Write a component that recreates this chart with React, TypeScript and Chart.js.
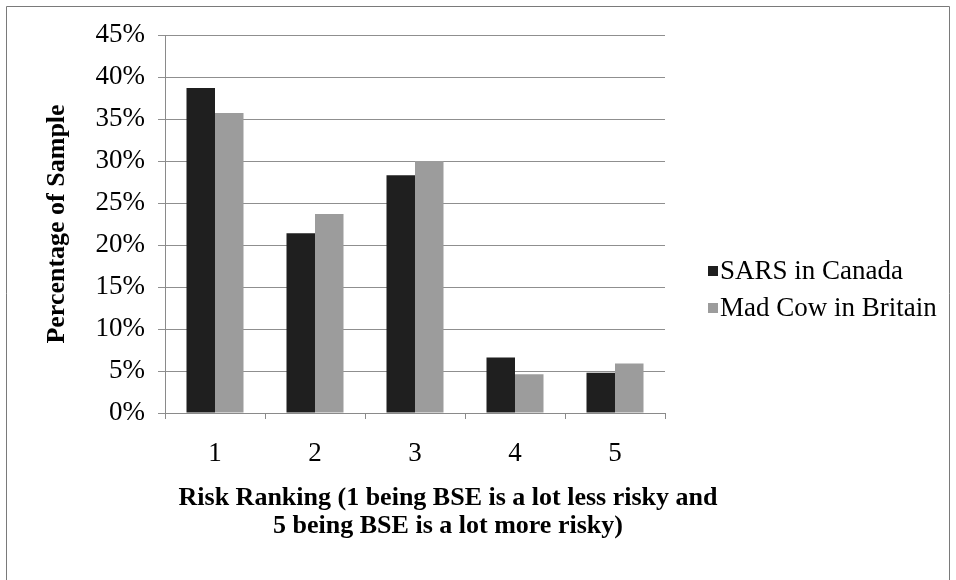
import { useEffect, useRef } from "react";
import { Chart, registerables } from "chart.js";

Chart.register(...registerables);

// Risk ranking categories (1 = BSE a lot less risky, 5 = a lot more risky)
const categories = ["1", "2", "3", "4", "5"];
// Share of respondents (%) per ranking, by comparison scenario
const sarsInCanada = [38.7, 21.4, 28.3, 6.6, 4.8];
const madCowInBritain = [35.7, 23.7, 30.0, 4.6, 5.9];
const seriesNames = ["SARS in Canada", "Mad Cow in Britain"];
const yTicks = { min: 0, max: 45, step: 5 };
const yTitle = "Percentage of Sample";
const xTitleLines = [
  "Risk Ranking (1 being BSE is a lot less risky and",
  "5 being BSE is a lot more risky)",
];

const W = 956;
const H = 580;
const PLOT = { left: 165, right: 665, top: 35, bottom: 413 };
const SERIF = '"Liberation Serif", "Times New Roman", serif';
const COLORS = ["#1f1f1f", "#9c9c9c"];

// Outer frame, side legend and the two-line category-axis title
const decorations = {
  id: "decorations",
  afterDraw(chart: Chart) {
    const ctx = chart.ctx;
    ctx.save();
    ctx.strokeStyle = "#7a7a7a";
    ctx.lineWidth = 1;
    ctx.beginPath();
    ctx.moveTo(6.5, H);
    ctx.lineTo(6.5, 6.5);
    ctx.lineTo(W - 6.5, 6.5);
    ctx.lineTo(W - 6.5, H);
    ctx.stroke();

    ctx.font = `27px ${SERIF}`;
    ctx.textBaseline = "middle";
    ctx.textAlign = "left";
    chart.data.datasets.forEach((ds, i) => {
      const y = 271 + i * 37;
      ctx.fillStyle = ds.backgroundColor as string;
      ctx.fillRect(708, y - 5, 10, 10);
      ctx.fillStyle = "#000";
      ctx.fillText(ds.label as string, 720, y + 1);
    });

    ctx.font = `bold 26px ${SERIF}`;
    ctx.textAlign = "center";
    xTitleLines.forEach((line, i) => {
      ctx.fillText(line, 448, 498 + i * 28);
    });
    ctx.restore();
  },
};

export default function App() {
  const ref = useRef<HTMLCanvasElement | null>(null);

  useEffect(() => {
    if (!ref.current) return;
    const chart = new Chart(ref.current, {
      type: "bar",
      data: {
        labels: categories,
        datasets: [
          {
            label: seriesNames[0],
            data: sarsInCanada,
            backgroundColor: COLORS[0],
            categoryPercentage: 0.57,
            barPercentage: 1,
          },
          {
            label: seriesNames[1],
            data: madCowInBritain,
            backgroundColor: COLORS[1],
            categoryPercentage: 0.57,
            barPercentage: 1,
          },
        ],
      },
      options: {
        responsive: false,
        animation: false,
        devicePixelRatio: 1,
        layout: {
          padding: { left: 0, top: PLOT.top, right: W - PLOT.right, bottom: 0 },
        },
        plugins: {
          legend: { display: false },
          tooltip: { enabled: false },
        },
        scales: {
          x: {
            grid: {
              display: true,
              drawOnChartArea: false,
              drawTicks: true,
              tickLength: 6,
              color: "#8a8a8a",
            },
            border: { display: true, color: "#8a8a8a" },
            ticks: {
              color: "#000",
              padding: 19,
              font: { family: SERIF, size: 27 },
            },
            afterFit(scale: any) {
              scale.height = H - PLOT.bottom;
            },
          },
          y: {
            min: yTicks.min,
            max: yTicks.max,
            grid: {
              color: "#8f8f8f",
              drawTicks: true,
              tickLength: 7,
            },
            border: { display: true, color: "#8a8a8a" },
            ticks: {
              stepSize: yTicks.step,
              color: "#000",
              padding: 13,
              font: { family: SERIF, size: 27 },
              callback: (v: any) => `${v}%`,
            },
            title: {
              display: true,
              text: yTitle,
              color: "#000",
              font: { family: SERIF, size: 26, weight: "bold" },
              padding: { top: 42, bottom: 0 },
            },
            afterFit(scale: any) {
              scale.width = PLOT.left;
            },
          },
        },
      },
      plugins: [decorations],
    });
    return () => chart.destroy();
  }, []);

  return (
    <div style={{ position: "fixed", left: 0, top: 0, width: W, height: H, background: "#fff" }}>
      <canvas ref={ref} width={W} height={H} style={{ display: "block" }} />
    </div>
  );
}
